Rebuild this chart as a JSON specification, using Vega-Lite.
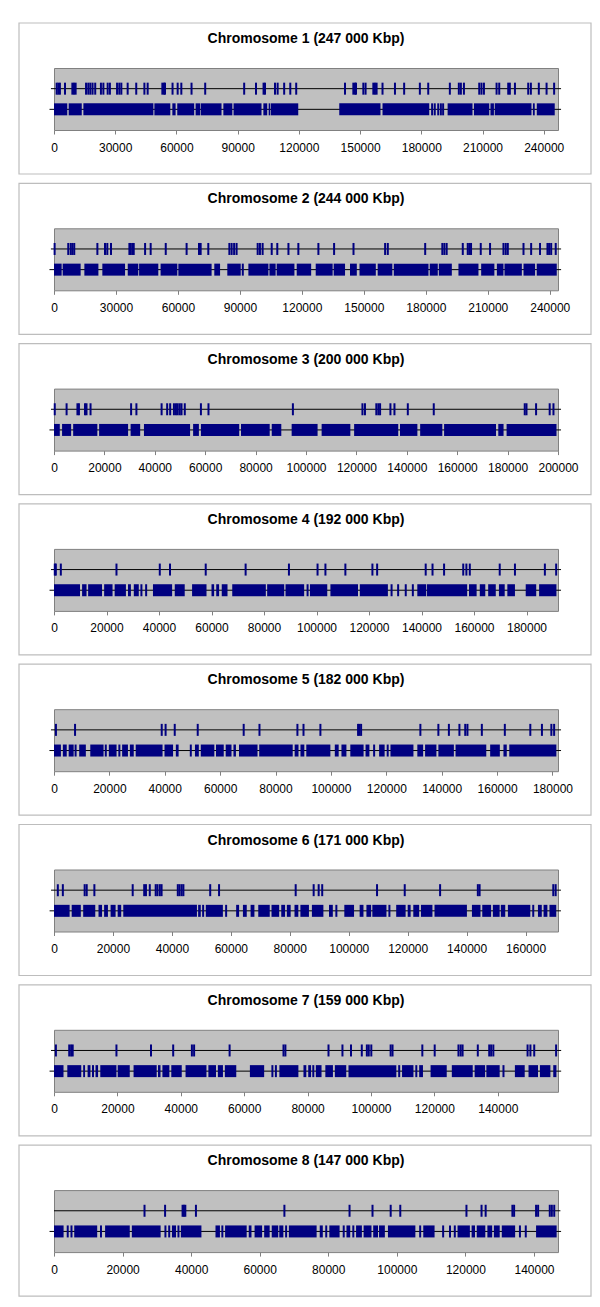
{
  "$schema": "https://vega.github.io/schema/vega-lite/v6.json",
  "background": "white",
  "padding": {"left": 17, "top": 21, "right": 0, "bottom": 0},
  "config": {
    "view": {"fill": "#c0c0c0", "stroke": "#808080", "strokeWidth": 1},
    "axis": {"labelFont": "Liberation Sans", "labelFontSize": 12, "labelColor": "black", "tickColor": "#808080", "tickSize": 4, "labelPadding": 8, "domain": false, "grid": false, "labelFlush": false, "labelOverlap": false}
  },
  "datasets": {
    "titles": [
      {"c": 1, "label": "Chromosome 1 (247 000 Kbp)"},
      {"c": 2, "label": "Chromosome 2 (244 000 Kbp)"},
      {"c": 3, "label": "Chromosome 3 (200 000 Kbp)"},
      {"c": 4, "label": "Chromosome 4 (192 000 Kbp)"},
      {"c": 5, "label": "Chromosome 5 (182 000 Kbp)"},
      {"c": 6, "label": "Chromosome 6 (171 000 Kbp)"},
      {"c": 7, "label": "Chromosome 7 (159 000 Kbp)"},
      {"c": 8, "label": "Chromosome 8 (147 000 Kbp)"}
    ],
    "lines": [
      {"c": 1, "r": 2, "x": -1500, "x2": 248500}, {"c": 1, "r": 1, "x": -2200, "x2": 248500},
      {"c": 2, "r": 2, "x": -1500, "x2": 245500}, {"c": 2, "r": 1, "x": -2200, "x2": 245500},
      {"c": 3, "r": 2, "x": -1200, "x2": 201200}, {"c": 3, "r": 1, "x": -1800, "x2": 201200},
      {"c": 4, "r": 2, "x": -1150, "x2": 193150}, {"c": 4, "r": 1, "x": -1700, "x2": 193150},
      {"c": 5, "r": 2, "x": -1100, "x2": 183100}, {"c": 5, "r": 1, "x": -1650, "x2": 183100},
      {"c": 6, "r": 2, "x": -1000, "x2": 172000}, {"c": 6, "r": 1, "x": -1500, "x2": 172000},
      {"c": 7, "r": 2, "x": -950, "x2": 160000}, {"c": 7, "r": 1, "x": -1400, "x2": 160000},
      {"c": 8, "r": 2, "x": 0, "x2": 147700}, {"c": 8, "r": 1, "x": -1300, "x2": 147900}
    ],
    "blocks": [
      {"c":1,"r":1,"x":0,"x2":6500},{"c":1,"r":1,"x":7200,"x2":13600},{"c":1,"r":1,"x":14400,"x2":48700},{"c":1,"r":1,"x":49200,"x2":57000},{"c":1,"r":1,"x":58000,"x2":59600},{"c":1,"r":1,"x":60400,"x2":68700},{"c":1,"r":1,"x":69400,"x2":71700},{"c":1,"r":1,"x":72000,"x2":82100},{"c":1,"r":1,"x":83000,"x2":87400},{"c":1,"r":1,"x":88000,"x2":101700},{"c":1,"r":1,"x":102600,"x2":104500},{"c":1,"r":1,"x":105200,"x2":106000},{"c":1,"r":1,"x":106300,"x2":119700},{"c":1,"r":1,"x":139800,"x2":160000},{"c":1,"r":1,"x":161000,"x2":183900},{"c":1,"r":1,"x":192900,"x2":205100},{"c":1,"r":1,"x":205800,"x2":213300},{"c":1,"r":1,"x":213900,"x2":215600},{"c":1,"r":1,"x":216000,"x2":234000},{"c":1,"r":1,"x":234700,"x2":235600},{"c":1,"r":1,"x":236600,"x2":245400},
      {"c":2,"r":1,"x":0,"x2":3700},{"c":2,"r":1,"x":4200,"x2":12900},{"c":2,"r":1,"x":14700,"x2":21500},{"c":2,"r":1,"x":23400,"x2":34400},{"c":2,"r":1,"x":35700,"x2":40800},{"c":2,"r":1,"x":41200,"x2":50500},{"c":2,"r":1,"x":51600,"x2":59700},{"c":2,"r":1,"x":60200,"x2":76300},{"c":2,"r":1,"x":77600,"x2":80400},{"c":2,"r":1,"x":83900,"x2":90400},{"c":2,"r":1,"x":94100,"x2":103800},{"c":2,"r":1,"x":104300,"x2":107300},{"c":2,"r":1,"x":107800,"x2":116400},{"c":2,"r":1,"x":117500,"x2":124500},{"c":2,"r":1,"x":126700,"x2":134900},{"c":2,"r":1,"x":135400,"x2":140900},{"c":2,"r":1,"x":143300,"x2":146600},{"c":2,"r":1,"x":147900,"x2":155800},{"c":2,"r":1,"x":156700,"x2":163800},{"c":2,"r":1,"x":164500,"x2":181300},{"c":2,"r":1,"x":181900,"x2":185800},{"c":2,"r":1,"x":186300,"x2":192600},{"c":2,"r":1,"x":195800,"x2":205500},{"c":2,"r":1,"x":206800,"x2":213200},{"c":2,"r":1,"x":214400,"x2":217600},{"c":2,"r":1,"x":218100,"x2":226500},{"c":2,"r":1,"x":227300,"x2":232900},{"c":2,"r":1,"x":233700,"x2":243400},
      {"c":3,"r":1,"x":0,"x2":2300},{"c":3,"r":1,"x":3200,"x2":6800},{"c":3,"r":1,"x":7600,"x2":17200},{"c":3,"r":1,"x":17900,"x2":29400},{"c":3,"r":1,"x":30400,"x2":34200},{"c":3,"r":1,"x":35700,"x2":54000},{"c":3,"r":1,"x":55200,"x2":57500},{"c":3,"r":1,"x":58300,"x2":73500},{"c":3,"r":1,"x":74200,"x2":85600},{"c":3,"r":1,"x":86400,"x2":90200},{"c":3,"r":1,"x":94300,"x2":104600},{"c":3,"r":1,"x":106200,"x2":117600},{"c":3,"r":1,"x":119100,"x2":136600},{"c":3,"r":1,"x":137300,"x2":144200},{"c":3,"r":1,"x":145300,"x2":154100},{"c":3,"r":1,"x":154800,"x2":175400},{"c":3,"r":1,"x":176300,"x2":178400},{"c":3,"r":1,"x":179600,"x2":199400},
      {"c":4,"r":1,"x":0,"x2":9900},{"c":4,"r":1,"x":10700,"x2":12400},{"c":4,"r":1,"x":13000,"x2":18300},{"c":4,"r":1,"x":19100,"x2":22300},{"c":4,"r":1,"x":23100,"x2":27400},{"c":4,"r":1,"x":28200,"x2":29300},{"c":4,"r":1,"x":30400,"x2":32300},{"c":4,"r":1,"x":37700,"x2":45000},{"c":4,"r":1,"x":46000,"x2":49800},{"c":4,"r":1,"x":52600,"x2":58100},{"c":4,"r":1,"x":60000,"x2":61000},{"c":4,"r":1,"x":61800,"x2":62900},{"c":4,"r":1,"x":63900,"x2":66100},{"c":4,"r":1,"x":67900,"x2":80700},{"c":4,"r":1,"x":81200,"x2":87700},{"c":4,"r":1,"x":88200,"x2":95300},{"c":4,"r":1,"x":97500,"x2":104100},{"c":4,"r":1,"x":105300,"x2":115800},{"c":4,"r":1,"x":116500,"x2":127200},{"c":4,"r":1,"x":138400,"x2":141800},{"c":4,"r":1,"x":142100,"x2":157400},{"c":4,"r":1,"x":158100,"x2":161000},{"c":4,"r":1,"x":162200,"x2":164300},{"c":4,"r":1,"x":165400,"x2":168300},{"c":4,"r":1,"x":169500,"x2":171700},{"c":4,"r":1,"x":172700,"x2":175600},{"c":4,"r":1,"x":179700,"x2":183700},{"c":4,"r":1,"x":184800,"x2":191400},
      {"c":5,"r":1,"x":0,"x2":2500},{"c":5,"r":1,"x":3200,"x2":4600},{"c":5,"r":1,"x":5300,"x2":7100},{"c":5,"r":1,"x":9100,"x2":11500},{"c":5,"r":1,"x":13100,"x2":17900},{"c":5,"r":1,"x":19800,"x2":22600},{"c":5,"r":1,"x":24600,"x2":26700},{"c":5,"r":1,"x":27400,"x2":28800},{"c":5,"r":1,"x":29500,"x2":39200},{"c":5,"r":1,"x":39900,"x2":43000},{"c":5,"r":1,"x":44000,"x2":45000},{"c":5,"r":1,"x":50900,"x2":52300},{"c":5,"r":1,"x":53000,"x2":57900},{"c":5,"r":1,"x":58500,"x2":61300},{"c":5,"r":1,"x":62000,"x2":64100},{"c":5,"r":1,"x":64800,"x2":65700},{"c":5,"r":1,"x":66800,"x2":73500},{"c":5,"r":1,"x":74100,"x2":86200},{"c":5,"r":1,"x":86900,"x2":88300},{"c":5,"r":1,"x":89000,"x2":90400},{"c":5,"r":1,"x":91100,"x2":99800},{"c":5,"r":1,"x":101400,"x2":102800},{"c":5,"r":1,"x":103800,"x2":105600},{"c":5,"r":1,"x":107000,"x2":111800},{"c":5,"r":1,"x":112500,"x2":113900},{"c":5,"r":1,"x":117400,"x2":119400},{"c":5,"r":1,"x":121500,"x2":129800},{"c":5,"r":1,"x":131200,"x2":133300},{"c":5,"r":1,"x":134000,"x2":138100},{"c":5,"r":1,"x":138800,"x2":144400},{"c":5,"r":1,"x":145000,"x2":156100},{"c":5,"r":1,"x":157500,"x2":161000},{"c":5,"r":1,"x":162300,"x2":163500},{"c":5,"r":1,"x":164400,"x2":181400},
      {"c":6,"r":1,"x":0,"x2":5300},{"c":6,"r":1,"x":6000,"x2":9100},{"c":6,"r":1,"x":9900,"x2":14000},{"c":6,"r":1,"x":15100,"x2":16300},{"c":6,"r":1,"x":17000,"x2":18300},{"c":6,"r":1,"x":19200,"x2":20900},{"c":6,"r":1,"x":21600,"x2":22800},{"c":6,"r":1,"x":23500,"x2":48500},{"c":6,"r":1,"x":48900,"x2":49800},{"c":6,"r":1,"x":51500,"x2":57300},{"c":6,"r":1,"x":61800,"x2":62800},{"c":6,"r":1,"x":64100,"x2":65400},{"c":6,"r":1,"x":66700,"x2":68000},{"c":6,"r":1,"x":69300,"x2":73200},{"c":6,"r":1,"x":73800,"x2":76400},{"c":6,"r":1,"x":77100,"x2":78400},{"c":6,"r":1,"x":79000,"x2":80300},{"c":6,"r":1,"x":81600,"x2":82900},{"c":6,"r":1,"x":83600,"x2":86500},{"c":6,"r":1,"x":87500,"x2":91400},{"c":6,"r":1,"x":93300,"x2":94600},{"c":6,"r":1,"x":98500,"x2":101800},{"c":6,"r":1,"x":103700,"x2":105000},{"c":6,"r":1,"x":106000,"x2":107600},{"c":6,"r":1,"x":108000,"x2":112800},{"c":6,"r":1,"x":116100,"x2":119300},{"c":6,"r":1,"x":120000,"x2":121000},{"c":6,"r":1,"x":121900,"x2":123900},{"c":6,"r":1,"x":124500,"x2":128400},{"c":6,"r":1,"x":129100,"x2":140100},{"c":6,"r":1,"x":141800,"x2":144700},{"c":6,"r":1,"x":145300,"x2":148300},{"c":6,"r":1,"x":148900,"x2":151200},{"c":6,"r":1,"x":151600,"x2":153100},{"c":6,"r":1,"x":154000,"x2":161600},{"c":6,"r":1,"x":164200,"x2":165500},{"c":6,"r":1,"x":166100,"x2":167400},{"c":6,"r":1,"x":168100,"x2":170400},
      {"c":7,"r":1,"x":0,"x2":3000},{"c":7,"r":1,"x":4200,"x2":8600},{"c":7,"r":1,"x":9200,"x2":9800},{"c":7,"r":1,"x":10600,"x2":11500},{"c":7,"r":1,"x":13100,"x2":13900},{"c":7,"r":1,"x":14600,"x2":19700},{"c":7,"r":1,"x":20100,"x2":23900},{"c":7,"r":1,"x":25100,"x2":32400},{"c":7,"r":1,"x":32800,"x2":33600},{"c":7,"r":1,"x":34200,"x2":36400},{"c":7,"r":1,"x":37000,"x2":40300},{"c":7,"r":1,"x":41500,"x2":48100},{"c":7,"r":1,"x":48700,"x2":51100},{"c":7,"r":1,"x":51700,"x2":53300},{"c":7,"r":1,"x":53900,"x2":57500},{"c":7,"r":1,"x":61800,"x2":66300},{"c":7,"r":1,"x":71100,"x2":77100},{"c":7,"r":1,"x":78700,"x2":79600},{"c":7,"r":1,"x":80200,"x2":81100},{"c":7,"r":1,"x":82600,"x2":84400},{"c":7,"r":1,"x":85600,"x2":88000},{"c":7,"r":1,"x":88600,"x2":92200},{"c":7,"r":1,"x":92900,"x2":108000},{"c":7,"r":1,"x":109800,"x2":113400},{"c":7,"r":1,"x":115200,"x2":116400},{"c":7,"r":1,"x":118800,"x2":123900},{"c":7,"r":1,"x":125500,"x2":132100},{"c":7,"r":1,"x":132700,"x2":136000},{"c":7,"r":1,"x":136400,"x2":140600},{"c":7,"r":1,"x":145400,"x2":148500},{"c":7,"r":1,"x":149700,"x2":152700},{"c":7,"r":1,"x":153300,"x2":156600},{"c":7,"r":1,"x":157500,"x2":158500},
      {"c":8,"r":1,"x":0,"x2":2800},{"c":8,"r":1,"x":5900,"x2":12600},{"c":8,"r":1,"x":14900,"x2":22100},{"c":8,"r":1,"x":22700,"x2":31100},{"c":8,"r":1,"x":34400,"x2":35600},{"c":8,"r":1,"x":37000,"x2":43000},{"c":8,"r":1,"x":47100,"x2":48400},{"c":8,"r":1,"x":49900,"x2":56200},{"c":8,"r":1,"x":56800,"x2":57600},{"c":8,"r":1,"x":58500,"x2":60700},{"c":8,"r":1,"x":61300,"x2":62900},{"c":8,"r":1,"x":63500,"x2":65400},{"c":8,"r":1,"x":65700,"x2":66900},{"c":8,"r":1,"x":68500,"x2":76600},{"c":8,"r":1,"x":77500,"x2":78400},{"c":8,"r":1,"x":80300,"x2":83300},{"c":8,"r":1,"x":85300,"x2":86400},{"c":8,"r":1,"x":88100,"x2":89800},{"c":8,"r":1,"x":90300,"x2":92600},{"c":8,"r":1,"x":93100,"x2":94500},{"c":8,"r":1,"x":94800,"x2":96500},{"c":8,"r":1,"x":97400,"x2":105400},{"c":8,"r":1,"x":107700,"x2":111000},{"c":8,"r":1,"x":117700,"x2":121300},{"c":8,"r":1,"x":121800,"x2":122800},{"c":8,"r":1,"x":123300,"x2":125800},{"c":8,"r":1,"x":126400,"x2":127800},{"c":8,"r":1,"x":128300,"x2":130000},{"c":8,"r":1,"x":130600,"x2":134500},{"c":8,"r":1,"x":140600,"x2":146600}
    ],
    "ticks": [
      {"c":1,"r":2,"x":1300},{"c":1,"r":2,"x":2100},{"c":1,"r":2,"x":2900},{"c":1,"r":2,"x":5400},{"c":1,"r":2,"x":9000},{"c":1,"r":2,"x":9800},{"c":1,"r":2,"x":10600},{"c":1,"r":2,"x":15700},{"c":1,"r":2,"x":16800},{"c":1,"r":2,"x":17800},{"c":1,"r":2,"x":18900},{"c":1,"r":2,"x":20200},{"c":1,"r":2,"x":23000},{"c":1,"r":2,"x":24200},{"c":1,"r":2,"x":26300},{"c":1,"r":2,"x":27400},{"c":1,"r":2,"x":30900},{"c":1,"r":2,"x":32000},{"c":1,"r":2,"x":33000},{"c":1,"r":2,"x":36100},{"c":1,"r":2,"x":40300},{"c":1,"r":2,"x":44300},{"c":1,"r":2,"x":45900},{"c":1,"r":2,"x":53100},{"c":1,"r":2,"x":53900},{"c":1,"r":2,"x":54400},{"c":1,"r":2,"x":58100},{"c":1,"r":2,"x":60600},{"c":1,"r":2,"x":62400},{"c":1,"r":2,"x":67400},{"c":1,"r":2,"x":74100},{"c":1,"r":2,"x":93200},{"c":1,"r":2,"x":99000},{"c":1,"r":2,"x":102700},{"c":1,"r":2,"x":103400},{"c":1,"r":2,"x":108300},{"c":1,"r":2,"x":109600},{"c":1,"r":2,"x":112800},{"c":1,"r":2,"x":115800},{"c":1,"r":2,"x":118700},{"c":1,"r":2,"x":142600},{"c":1,"r":2,"x":146700},{"c":1,"r":2,"x":147500},{"c":1,"r":2,"x":148000},{"c":1,"r":2,"x":151600},{"c":1,"r":2,"x":152700},{"c":1,"r":2,"x":156500},{"c":1,"r":2,"x":157300},{"c":1,"r":2,"x":158100},{"c":1,"r":2,"x":161000},{"c":1,"r":2,"x":167100},{"c":1,"r":2,"x":171600},{"c":1,"r":2,"x":179300},{"c":1,"r":2,"x":183400},{"c":1,"r":2,"x":194000},{"c":1,"r":2,"x":198400},{"c":1,"r":2,"x":199400},{"c":1,"r":2,"x":200900},{"c":1,"r":2,"x":208400},{"c":1,"r":2,"x":209500},{"c":1,"r":2,"x":210700},{"c":1,"r":2,"x":216900},{"c":1,"r":2,"x":218200},{"c":1,"r":2,"x":222600},{"c":1,"r":2,"x":223400},{"c":1,"r":2,"x":225900},{"c":1,"r":2,"x":232400},{"c":1,"r":2,"x":233700},{"c":1,"r":2,"x":237600},{"c":1,"r":2,"x":241400},{"c":1,"r":2,"x":245100},
      {"c":1,"r":1,"x":185300},{"c":1,"r":1,"x":186600},{"c":1,"r":1,"x":188300},{"c":1,"r":1,"x":189600},{"c":1,"r":1,"x":190700},
      {"c":2,"r":2,"x":300},{"c":2,"r":2,"x":6900},{"c":2,"r":2,"x":8100},{"c":2,"r":2,"x":8900},{"c":2,"r":2,"x":9800},{"c":2,"r":2,"x":21000},{"c":2,"r":2,"x":24700},{"c":2,"r":2,"x":25800},{"c":2,"r":2,"x":27600},{"c":2,"r":2,"x":36500},{"c":2,"r":2,"x":37100},{"c":2,"r":2,"x":37900},{"c":2,"r":2,"x":38600},{"c":2,"r":2,"x":44100},{"c":2,"r":2,"x":46800},{"c":2,"r":2,"x":54100},{"c":2,"r":2,"x":64200},{"c":2,"r":2,"x":70200},{"c":2,"r":2,"x":71000},{"c":2,"r":2,"x":74700},{"c":2,"r":2,"x":84900},{"c":2,"r":2,"x":86000},{"c":2,"r":2,"x":87200},{"c":2,"r":2,"x":88400},{"c":2,"r":2,"x":98600},{"c":2,"r":2,"x":99700},{"c":2,"r":2,"x":101000},{"c":2,"r":2,"x":105400},{"c":2,"r":2,"x":108100},{"c":2,"r":2,"x":113500},{"c":2,"r":2,"x":118300},{"c":2,"r":2,"x":128000},{"c":2,"r":2,"x":135600},{"c":2,"r":2,"x":145000},{"c":2,"r":2,"x":160300},{"c":2,"r":2,"x":161600},{"c":2,"r":2,"x":179700},{"c":2,"r":2,"x":188000},{"c":2,"r":2,"x":189000},{"c":2,"r":2,"x":190100},{"c":2,"r":2,"x":197900},{"c":2,"r":2,"x":200300},{"c":2,"r":2,"x":201100},{"c":2,"r":2,"x":201900},{"c":2,"r":2,"x":206600},{"c":2,"r":2,"x":211100},{"c":2,"r":2,"x":217600},{"c":2,"r":2,"x":218700},{"c":2,"r":2,"x":219700},{"c":2,"r":2,"x":227300},{"c":2,"r":2,"x":231000},{"c":2,"r":2,"x":235300},{"c":2,"r":2,"x":238900},{"c":2,"r":2,"x":239700},{"c":2,"r":2,"x":240700},{"c":2,"r":2,"x":242900},
      {"c":2,"r":1,"x":91400},
      {"c":3,"r":2,"x":300},{"c":3,"r":2,"x":5000},{"c":3,"r":2,"x":9300},{"c":3,"r":2,"x":9900},{"c":3,"r":2,"x":12300},{"c":3,"r":2,"x":12900},{"c":3,"r":2,"x":14500},{"c":3,"r":2,"x":30600},{"c":3,"r":2,"x":32700},{"c":3,"r":2,"x":42700},{"c":3,"r":2,"x":44900},{"c":3,"r":2,"x":46100},{"c":3,"r":2,"x":47600},{"c":3,"r":2,"x":48400},{"c":3,"r":2,"x":49100},{"c":3,"r":2,"x":49900},{"c":3,"r":2,"x":50600},{"c":3,"r":2,"x":51900},{"c":3,"r":2,"x":58300},{"c":3,"r":2,"x":61300},{"c":3,"r":2,"x":94800},{"c":3,"r":2,"x":122400},{"c":3,"r":2,"x":123400},{"c":3,"r":2,"x":127900},{"c":3,"r":2,"x":128700},{"c":3,"r":2,"x":129400},{"c":3,"r":2,"x":133500},{"c":3,"r":2,"x":135100},{"c":3,"r":2,"x":140400},{"c":3,"r":2,"x":150700},{"c":3,"r":2,"x":186800},{"c":3,"r":2,"x":187500},{"c":3,"r":2,"x":191300},{"c":3,"r":2,"x":196700},{"c":3,"r":2,"x":198200},
      {"c":4,"r":2,"x":300},{"c":4,"r":2,"x":700},{"c":4,"r":2,"x":2600},{"c":4,"r":2,"x":23800},{"c":4,"r":2,"x":40300},{"c":4,"r":2,"x":44200},{"c":4,"r":2,"x":57800},{"c":4,"r":2,"x":73000},{"c":4,"r":2,"x":89500},{"c":4,"r":2,"x":100400},{"c":4,"r":2,"x":103400},{"c":4,"r":2,"x":111000},{"c":4,"r":2,"x":121300},{"c":4,"r":2,"x":123100},{"c":4,"r":2,"x":141600},{"c":4,"r":2,"x":144200},{"c":4,"r":2,"x":148600},{"c":4,"r":2,"x":155900},{"c":4,"r":2,"x":157100},{"c":4,"r":2,"x":158400},{"c":4,"r":2,"x":169800},{"c":4,"r":2,"x":175600},{"c":4,"r":2,"x":187000},{"c":4,"r":2,"x":191300},
      {"c":4,"r":1,"x":33300},{"c":4,"r":1,"x":35100},{"c":4,"r":1,"x":96600},{"c":4,"r":1,"x":128600},{"c":4,"r":1,"x":131100},{"c":4,"r":1,"x":134000},{"c":4,"r":1,"x":136700},
      {"c":5,"r":2,"x":700},{"c":5,"r":2,"x":7600},{"c":5,"r":2,"x":38900},{"c":5,"r":2,"x":40300},{"c":5,"r":2,"x":43600},{"c":5,"r":2,"x":51900},{"c":5,"r":2,"x":68500},{"c":5,"r":2,"x":74200},{"c":5,"r":2,"x":87900},{"c":5,"r":2,"x":90100},{"c":5,"r":2,"x":96200},{"c":5,"r":2,"x":109800},{"c":5,"r":2,"x":110300},{"c":5,"r":2,"x":110900},{"c":5,"r":2,"x":132300},{"c":5,"r":2,"x":138800},{"c":5,"r":2,"x":142600},{"c":5,"r":2,"x":146400},{"c":5,"r":2,"x":148500},{"c":5,"r":2,"x":149300},{"c":5,"r":2,"x":154500},{"c":5,"r":2,"x":162800},{"c":5,"r":2,"x":172000},{"c":5,"r":2,"x":176200},{"c":5,"r":2,"x":179600},{"c":5,"r":2,"x":180600},
      {"c":5,"r":1,"x":7800},{"c":5,"r":1,"x":18700},{"c":5,"r":1,"x":23600},{"c":5,"r":1,"x":49400},{"c":5,"r":1,"x":115600},{"c":5,"r":1,"x":120500},
      {"c":6,"r":2,"x":1300},{"c":6,"r":2,"x":3000},{"c":6,"r":2,"x":10400},{"c":6,"r":2,"x":11100},{"c":6,"r":2,"x":13700},{"c":6,"r":2,"x":26700},{"c":6,"r":2,"x":30600},{"c":6,"r":2,"x":31200},{"c":6,"r":2,"x":32500},{"c":6,"r":2,"x":34500},{"c":6,"r":2,"x":35100},{"c":6,"r":2,"x":35900},{"c":6,"r":2,"x":36500},{"c":6,"r":2,"x":42000},{"c":6,"r":2,"x":42600},{"c":6,"r":2,"x":43300},{"c":6,"r":2,"x":43900},{"c":6,"r":2,"x":53000},{"c":6,"r":2,"x":56000},{"c":6,"r":2,"x":82000},{"c":6,"r":2,"x":88100},{"c":6,"r":2,"x":89800},{"c":6,"r":2,"x":91000},{"c":6,"r":2,"x":109600},{"c":6,"r":2,"x":119000},{"c":6,"r":2,"x":131000},{"c":6,"r":2,"x":143800},{"c":6,"r":2,"x":144400},{"c":6,"r":2,"x":169400},{"c":6,"r":2,"x":170200},
      {"c":6,"r":1,"x":50600},{"c":6,"r":1,"x":58400},{"c":6,"r":1,"x":95800},{"c":6,"r":1,"x":113800},{"c":6,"r":1,"x":162600},
      {"c":7,"r":2,"x":600},{"c":7,"r":2,"x":4800},{"c":7,"r":2,"x":5400},{"c":7,"r":2,"x":5900},{"c":7,"r":2,"x":19700},{"c":7,"r":2,"x":30600},{"c":7,"r":2,"x":37600},{"c":7,"r":2,"x":43500},{"c":7,"r":2,"x":44200},{"c":7,"r":2,"x":55400},{"c":7,"r":2,"x":72400},{"c":7,"r":2,"x":73000},{"c":7,"r":2,"x":86600},{"c":7,"r":2,"x":91000},{"c":7,"r":2,"x":93700},{"c":7,"r":2,"x":97100},{"c":7,"r":2,"x":98700},{"c":7,"r":2,"x":99300},{"c":7,"r":2,"x":100100},{"c":7,"r":2,"x":106200},{"c":7,"r":2,"x":106800},{"c":7,"r":2,"x":116200},{"c":7,"r":2,"x":120100},{"c":7,"r":2,"x":127600},{"c":7,"r":2,"x":128300},{"c":7,"r":2,"x":128900},{"c":7,"r":2,"x":133700},{"c":7,"r":2,"x":137300},{"c":7,"r":2,"x":137900},{"c":7,"r":2,"x":138600},{"c":7,"r":2,"x":149400},{"c":7,"r":2,"x":150300},{"c":7,"r":2,"x":151500},{"c":7,"r":2,"x":158400},
      {"c":7,"r":1,"x":12300},{"c":7,"r":1,"x":68900},{"c":7,"r":1,"x":70000},{"c":7,"r":1,"x":81800},{"c":7,"r":1,"x":108900},{"c":7,"r":1,"x":114300},{"c":7,"r":1,"x":141800},
      {"c":8,"r":2,"x":26400},{"c":8,"r":2,"x":32400},{"c":8,"r":2,"x":37500},{"c":8,"r":2,"x":37900},{"c":8,"r":2,"x":38300},{"c":8,"r":2,"x":41400},{"c":8,"r":2,"x":67200},{"c":8,"r":2,"x":86200},{"c":8,"r":2,"x":92900},{"c":8,"r":2,"x":98200},{"c":8,"r":2,"x":101000},{"c":8,"r":2,"x":120300},{"c":8,"r":2,"x":124700},{"c":8,"r":2,"x":125900},{"c":8,"r":2,"x":133700},{"c":8,"r":2,"x":134200},{"c":8,"r":2,"x":140600},{"c":8,"r":2,"x":141200},{"c":8,"r":2,"x":144600},{"c":8,"r":2,"x":145200},{"c":8,"r":2,"x":145900},
      {"c":8,"r":1,"x":4000},{"c":8,"r":1,"x":5100},{"c":8,"r":1,"x":13700},{"c":8,"r":1,"x":32500},{"c":8,"r":1,"x":33600},{"c":8,"r":1,"x":36300},{"c":8,"r":1,"x":49100},{"c":8,"r":1,"x":67700},{"c":8,"r":1,"x":79400},{"c":8,"r":1,"x":84500},{"c":8,"r":1,"x":87300},{"c":8,"r":1,"x":106800},{"c":8,"r":1,"x":113500},{"c":8,"r":1,"x":115500},{"c":8,"r":1,"x":116900},{"c":8,"r":1,"x":135900},{"c":8,"r":1,"x":137600}
    ]
  },
  "vconcat": [
    {
      "width": 504, "height": 62,
      "layer": [
        {"data": {"name": "titles"}, "transform": [{"filter": "datum.c == 1"}], "mark": {"type": "rect", "fillOpacity": 0, "stroke": "#bdbdbd", "strokeWidth": 1.2}, "encoding": {"x": {"datum": -17153, "type": "quantitative", "scale": {"domain": [0, 247000], "nice": false, "zero": false}, "axis": {"values": [0, 30000, 60000, 90000, 120000, 150000, 180000, 210000, 240000], "format": "d", "title": null}}, "x2": {"datum": 263173}, "y": {"datum": 5.177, "type": "quantitative", "scale": {"domain": [0, 3], "nice": false, "zero": false}, "axis": null}, "y2": {"datum": -2.129}}},
        {"data": {"name": "titles"}, "transform": [{"filter": "datum.c == 1"}], "mark": {"type": "text", "font": "Liberation Sans", "fontSize": 14, "fontWeight": "bold", "baseline": "middle", "align": "center", "color": "black"}, "encoding": {"x": {"datum": 123500, "type": "quantitative"}, "y": {"datum": 4.403, "type": "quantitative"}, "text": {"field": "label"}}},
        {"data": {"name": "lines"}, "transform": [{"filter": "datum.c == 1"}], "mark": {"type": "rule", "color": "black", "strokeWidth": 1}, "encoding": {"x": {"field": "x", "type": "quantitative"}, "x2": {"field": "x2"}, "y": {"field": "r", "type": "quantitative"}}},
        {"data": {"name": "blocks"}, "transform": [{"filter": "datum.c == 1"}], "mark": {"type": "rule", "color": "#000080", "strokeWidth": 12}, "encoding": {"x": {"field": "x", "type": "quantitative"}, "x2": {"field": "x2"}, "y": {"field": "r", "type": "quantitative"}}},
        {"data": {"name": "ticks"}, "transform": [{"filter": "datum.c == 1"}], "mark": {"type": "tick", "orient": "vertical", "color": "#000080", "opacity": 1, "size": 12, "thickness": 2}, "encoding": {"x": {"field": "x", "type": "quantitative"}, "y": {"field": "r", "type": "quantitative"}}}
      ]
    },
    {
      "width": 504, "height": 62,
      "layer": [
        {"data": {"name": "titles"}, "transform": [{"filter": "datum.c == 2"}], "mark": {"type": "rect", "fillOpacity": 0, "stroke": "#bdbdbd", "strokeWidth": 1.2}, "encoding": {"x": {"datum": -16944, "type": "quantitative", "scale": {"domain": [0, 244000], "nice": false, "zero": false}, "axis": {"values": [0, 30000, 60000, 90000, 120000, 150000, 180000, 210000, 240000], "format": "d", "title": null}}, "x2": {"datum": 259976}, "y": {"datum": 5.177, "type": "quantitative", "scale": {"domain": [0, 3], "nice": false, "zero": false}, "axis": null}, "y2": {"datum": -2.129}}},
        {"data": {"name": "titles"}, "transform": [{"filter": "datum.c == 2"}], "mark": {"type": "text", "font": "Liberation Sans", "fontSize": 14, "fontWeight": "bold", "baseline": "middle", "align": "center", "color": "black"}, "encoding": {"x": {"datum": 122000, "type": "quantitative"}, "y": {"datum": 4.403, "type": "quantitative"}, "text": {"field": "label"}}},
        {"data": {"name": "lines"}, "transform": [{"filter": "datum.c == 2"}], "mark": {"type": "rule", "color": "black", "strokeWidth": 1}, "encoding": {"x": {"field": "x", "type": "quantitative"}, "x2": {"field": "x2"}, "y": {"field": "r", "type": "quantitative"}}},
        {"data": {"name": "blocks"}, "transform": [{"filter": "datum.c == 2"}], "mark": {"type": "rule", "color": "#000080", "strokeWidth": 12}, "encoding": {"x": {"field": "x", "type": "quantitative"}, "x2": {"field": "x2"}, "y": {"field": "r", "type": "quantitative"}}},
        {"data": {"name": "ticks"}, "transform": [{"filter": "datum.c == 2"}], "mark": {"type": "tick", "orient": "vertical", "color": "#000080", "opacity": 1, "size": 12, "thickness": 2}, "encoding": {"x": {"field": "x", "type": "quantitative"}, "y": {"field": "r", "type": "quantitative"}}}
      ]
    },
    {
      "width": 504, "height": 62,
      "layer": [
        {"data": {"name": "titles"}, "transform": [{"filter": "datum.c == 3"}], "mark": {"type": "rect", "fillOpacity": 0, "stroke": "#bdbdbd", "strokeWidth": 1.2}, "encoding": {"x": {"datum": -13889, "type": "quantitative", "scale": {"domain": [0, 200000], "nice": false, "zero": false}, "axis": {"values": [0, 20000, 40000, 60000, 80000, 100000, 120000, 140000, 160000, 180000, 200000], "format": "d", "title": null}}, "x2": {"datum": 213095}, "y": {"datum": 5.177, "type": "quantitative", "scale": {"domain": [0, 3], "nice": false, "zero": false}, "axis": null}, "y2": {"datum": -2.129}}},
        {"data": {"name": "titles"}, "transform": [{"filter": "datum.c == 3"}], "mark": {"type": "text", "font": "Liberation Sans", "fontSize": 14, "fontWeight": "bold", "baseline": "middle", "align": "center", "color": "black"}, "encoding": {"x": {"datum": 100000, "type": "quantitative"}, "y": {"datum": 4.403, "type": "quantitative"}, "text": {"field": "label"}}},
        {"data": {"name": "lines"}, "transform": [{"filter": "datum.c == 3"}], "mark": {"type": "rule", "color": "black", "strokeWidth": 1}, "encoding": {"x": {"field": "x", "type": "quantitative"}, "x2": {"field": "x2"}, "y": {"field": "r", "type": "quantitative"}}},
        {"data": {"name": "blocks"}, "transform": [{"filter": "datum.c == 3"}], "mark": {"type": "rule", "color": "#000080", "strokeWidth": 12}, "encoding": {"x": {"field": "x", "type": "quantitative"}, "x2": {"field": "x2"}, "y": {"field": "r", "type": "quantitative"}}},
        {"data": {"name": "ticks"}, "transform": [{"filter": "datum.c == 3"}], "mark": {"type": "tick", "orient": "vertical", "color": "#000080", "opacity": 1, "size": 12, "thickness": 2}, "encoding": {"x": {"field": "x", "type": "quantitative"}, "y": {"field": "r", "type": "quantitative"}}}
      ]
    },
    {
      "width": 504, "height": 62,
      "layer": [
        {"data": {"name": "titles"}, "transform": [{"filter": "datum.c == 4"}], "mark": {"type": "rect", "fillOpacity": 0, "stroke": "#bdbdbd", "strokeWidth": 1.2}, "encoding": {"x": {"datum": -13333, "type": "quantitative", "scale": {"domain": [0, 192000], "nice": false, "zero": false}, "axis": {"values": [0, 20000, 40000, 60000, 80000, 100000, 120000, 140000, 160000, 180000], "format": "d", "title": null}}, "x2": {"datum": 204571}, "y": {"datum": 5.177, "type": "quantitative", "scale": {"domain": [0, 3], "nice": false, "zero": false}, "axis": null}, "y2": {"datum": -2.129}}},
        {"data": {"name": "titles"}, "transform": [{"filter": "datum.c == 4"}], "mark": {"type": "text", "font": "Liberation Sans", "fontSize": 14, "fontWeight": "bold", "baseline": "middle", "align": "center", "color": "black"}, "encoding": {"x": {"datum": 96000, "type": "quantitative"}, "y": {"datum": 4.403, "type": "quantitative"}, "text": {"field": "label"}}},
        {"data": {"name": "lines"}, "transform": [{"filter": "datum.c == 4"}], "mark": {"type": "rule", "color": "black", "strokeWidth": 1}, "encoding": {"x": {"field": "x", "type": "quantitative"}, "x2": {"field": "x2"}, "y": {"field": "r", "type": "quantitative"}}},
        {"data": {"name": "blocks"}, "transform": [{"filter": "datum.c == 4"}], "mark": {"type": "rule", "color": "#000080", "strokeWidth": 12}, "encoding": {"x": {"field": "x", "type": "quantitative"}, "x2": {"field": "x2"}, "y": {"field": "r", "type": "quantitative"}}},
        {"data": {"name": "ticks"}, "transform": [{"filter": "datum.c == 4"}], "mark": {"type": "tick", "orient": "vertical", "color": "#000080", "opacity": 1, "size": 12, "thickness": 2}, "encoding": {"x": {"field": "x", "type": "quantitative"}, "y": {"field": "r", "type": "quantitative"}}}
      ]
    },
    {
      "width": 504, "height": 62,
      "layer": [
        {"data": {"name": "titles"}, "transform": [{"filter": "datum.c == 5"}], "mark": {"type": "rect", "fillOpacity": 0, "stroke": "#bdbdbd", "strokeWidth": 1.2}, "encoding": {"x": {"datum": -12639, "type": "quantitative", "scale": {"domain": [0, 182000], "nice": false, "zero": false}, "axis": {"values": [0, 20000, 40000, 60000, 80000, 100000, 120000, 140000, 160000, 180000], "format": "d", "title": null}}, "x2": {"datum": 193917}, "y": {"datum": 5.177, "type": "quantitative", "scale": {"domain": [0, 3], "nice": false, "zero": false}, "axis": null}, "y2": {"datum": -2.129}}},
        {"data": {"name": "titles"}, "transform": [{"filter": "datum.c == 5"}], "mark": {"type": "text", "font": "Liberation Sans", "fontSize": 14, "fontWeight": "bold", "baseline": "middle", "align": "center", "color": "black"}, "encoding": {"x": {"datum": 91000, "type": "quantitative"}, "y": {"datum": 4.403, "type": "quantitative"}, "text": {"field": "label"}}},
        {"data": {"name": "lines"}, "transform": [{"filter": "datum.c == 5"}], "mark": {"type": "rule", "color": "black", "strokeWidth": 1}, "encoding": {"x": {"field": "x", "type": "quantitative"}, "x2": {"field": "x2"}, "y": {"field": "r", "type": "quantitative"}}},
        {"data": {"name": "blocks"}, "transform": [{"filter": "datum.c == 5"}], "mark": {"type": "rule", "color": "#000080", "strokeWidth": 12}, "encoding": {"x": {"field": "x", "type": "quantitative"}, "x2": {"field": "x2"}, "y": {"field": "r", "type": "quantitative"}}},
        {"data": {"name": "ticks"}, "transform": [{"filter": "datum.c == 5"}], "mark": {"type": "tick", "orient": "vertical", "color": "#000080", "opacity": 1, "size": 12, "thickness": 2}, "encoding": {"x": {"field": "x", "type": "quantitative"}, "y": {"field": "r", "type": "quantitative"}}}
      ]
    },
    {
      "width": 504, "height": 62,
      "layer": [
        {"data": {"name": "titles"}, "transform": [{"filter": "datum.c == 6"}], "mark": {"type": "rect", "fillOpacity": 0, "stroke": "#bdbdbd", "strokeWidth": 1.2}, "encoding": {"x": {"datum": -11875, "type": "quantitative", "scale": {"domain": [0, 171000], "nice": false, "zero": false}, "axis": {"values": [0, 20000, 40000, 60000, 80000, 100000, 120000, 140000, 160000], "format": "d", "title": null}}, "x2": {"datum": 182196}, "y": {"datum": 5.177, "type": "quantitative", "scale": {"domain": [0, 3], "nice": false, "zero": false}, "axis": null}, "y2": {"datum": -2.129}}},
        {"data": {"name": "titles"}, "transform": [{"filter": "datum.c == 6"}], "mark": {"type": "text", "font": "Liberation Sans", "fontSize": 14, "fontWeight": "bold", "baseline": "middle", "align": "center", "color": "black"}, "encoding": {"x": {"datum": 85500, "type": "quantitative"}, "y": {"datum": 4.403, "type": "quantitative"}, "text": {"field": "label"}}},
        {"data": {"name": "lines"}, "transform": [{"filter": "datum.c == 6"}], "mark": {"type": "rule", "color": "black", "strokeWidth": 1}, "encoding": {"x": {"field": "x", "type": "quantitative"}, "x2": {"field": "x2"}, "y": {"field": "r", "type": "quantitative"}}},
        {"data": {"name": "blocks"}, "transform": [{"filter": "datum.c == 6"}], "mark": {"type": "rule", "color": "#000080", "strokeWidth": 12}, "encoding": {"x": {"field": "x", "type": "quantitative"}, "x2": {"field": "x2"}, "y": {"field": "r", "type": "quantitative"}}},
        {"data": {"name": "ticks"}, "transform": [{"filter": "datum.c == 6"}], "mark": {"type": "tick", "orient": "vertical", "color": "#000080", "opacity": 1, "size": 12, "thickness": 2}, "encoding": {"x": {"field": "x", "type": "quantitative"}, "y": {"field": "r", "type": "quantitative"}}}
      ]
    },
    {
      "width": 504, "height": 62,
      "layer": [
        {"data": {"name": "titles"}, "transform": [{"filter": "datum.c == 7"}], "mark": {"type": "rect", "fillOpacity": 0, "stroke": "#bdbdbd", "strokeWidth": 1.2}, "encoding": {"x": {"datum": -11042, "type": "quantitative", "scale": {"domain": [0, 159000], "nice": false, "zero": false}, "axis": {"values": [0, 20000, 40000, 60000, 80000, 100000, 120000, 140000], "format": "d", "title": null}}, "x2": {"datum": 169411}, "y": {"datum": 5.177, "type": "quantitative", "scale": {"domain": [0, 3], "nice": false, "zero": false}, "axis": null}, "y2": {"datum": -2.129}}},
        {"data": {"name": "titles"}, "transform": [{"filter": "datum.c == 7"}], "mark": {"type": "text", "font": "Liberation Sans", "fontSize": 14, "fontWeight": "bold", "baseline": "middle", "align": "center", "color": "black"}, "encoding": {"x": {"datum": 79500, "type": "quantitative"}, "y": {"datum": 4.403, "type": "quantitative"}, "text": {"field": "label"}}},
        {"data": {"name": "lines"}, "transform": [{"filter": "datum.c == 7"}], "mark": {"type": "rule", "color": "black", "strokeWidth": 1}, "encoding": {"x": {"field": "x", "type": "quantitative"}, "x2": {"field": "x2"}, "y": {"field": "r", "type": "quantitative"}}},
        {"data": {"name": "blocks"}, "transform": [{"filter": "datum.c == 7"}], "mark": {"type": "rule", "color": "#000080", "strokeWidth": 12}, "encoding": {"x": {"field": "x", "type": "quantitative"}, "x2": {"field": "x2"}, "y": {"field": "r", "type": "quantitative"}}},
        {"data": {"name": "ticks"}, "transform": [{"filter": "datum.c == 7"}], "mark": {"type": "tick", "orient": "vertical", "color": "#000080", "opacity": 1, "size": 12, "thickness": 2}, "encoding": {"x": {"field": "x", "type": "quantitative"}, "y": {"field": "r", "type": "quantitative"}}}
      ]
    },
    {
      "width": 504, "height": 62,
      "layer": [
        {"data": {"name": "titles"}, "transform": [{"filter": "datum.c == 8"}], "mark": {"type": "rect", "fillOpacity": 0, "stroke": "#bdbdbd", "strokeWidth": 1.2}, "encoding": {"x": {"datum": -10208, "type": "quantitative", "scale": {"domain": [0, 147000], "nice": false, "zero": false}, "axis": {"values": [0, 20000, 40000, 60000, 80000, 100000, 120000, 140000], "format": "d", "title": null}}, "x2": {"datum": 156625}, "y": {"datum": 5.177, "type": "quantitative", "scale": {"domain": [0, 3], "nice": false, "zero": false}, "axis": null}, "y2": {"datum": -2.129}}},
        {"data": {"name": "titles"}, "transform": [{"filter": "datum.c == 8"}], "mark": {"type": "text", "font": "Liberation Sans", "fontSize": 14, "fontWeight": "bold", "baseline": "middle", "align": "center", "color": "black"}, "encoding": {"x": {"datum": 73500, "type": "quantitative"}, "y": {"datum": 4.403, "type": "quantitative"}, "text": {"field": "label"}}},
        {"data": {"name": "lines"}, "transform": [{"filter": "datum.c == 8"}], "mark": {"type": "rule", "color": "black", "strokeWidth": 1}, "encoding": {"x": {"field": "x", "type": "quantitative"}, "x2": {"field": "x2"}, "y": {"field": "r", "type": "quantitative"}}},
        {"data": {"name": "blocks"}, "transform": [{"filter": "datum.c == 8"}], "mark": {"type": "rule", "color": "#000080", "strokeWidth": 12}, "encoding": {"x": {"field": "x", "type": "quantitative"}, "x2": {"field": "x2"}, "y": {"field": "r", "type": "quantitative"}}},
        {"data": {"name": "ticks"}, "transform": [{"filter": "datum.c == 8"}], "mark": {"type": "tick", "orient": "vertical", "color": "#000080", "opacity": 1, "size": 12, "thickness": 2}, "encoding": {"x": {"field": "x", "type": "quantitative"}, "y": {"field": "r", "type": "quantitative"}}}
      ]
    }
  ],
  "spacing": 98.3,
  "bounds": "flush"
}
